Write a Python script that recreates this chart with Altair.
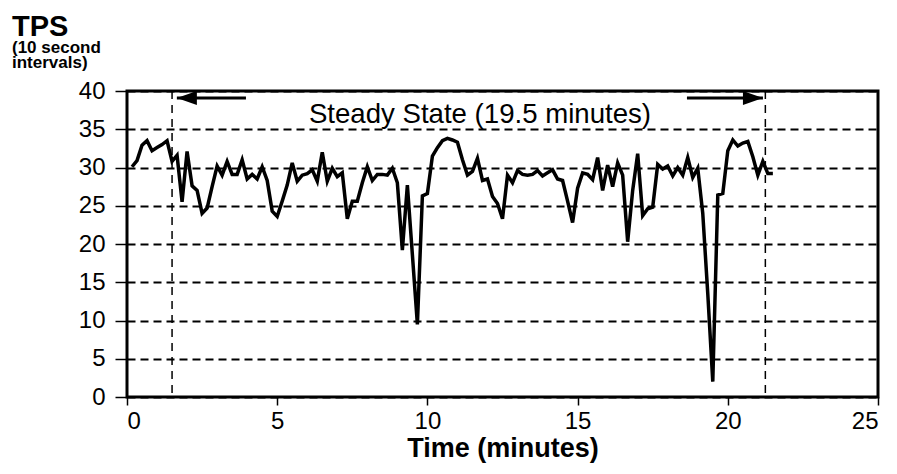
import altair as alt
import pandas as pd

# TPS sampled every 10 seconds (index i -> i*10 s)
tps = [
    30.1, 30.9, 32.9, 33.5, 32.2, 32.6, 33.0, 33.5, 30.8, 31.6,
    25.5, 32.1, 27.6, 27.0, 24.0, 24.7, 27.5, 30.2, 29.0, 30.8,
    29.1, 29.1, 31.0, 28.5, 29.1, 28.5, 30.1, 28.3, 24.3, 23.6,
    25.6, 27.7, 30.6, 28.2, 29.0, 29.2, 29.7, 28.2, 32.0, 28.2,
    29.9, 28.8, 29.3, 23.3, 25.6, 25.6, 28.0, 30.1, 28.3, 29.1,
    29.1, 29.0, 29.9, 28.0, 19.2, 27.7, 18.6, 9.5, 26.3, 26.6,
    31.5, 32.6, 33.5, 33.8, 33.6, 33.3, 31.0, 29.0, 29.5, 31.2,
    28.3, 28.5, 26.2, 25.3, 23.3, 29.0, 28.0, 29.6, 29.1, 29.0,
    29.1, 29.6, 28.9, 29.3, 29.7, 28.5, 28.3, 25.6, 22.8, 27.3,
    29.3, 29.1, 28.4, 31.3, 27.0, 30.3, 27.5, 30.6, 29.0, 20.3,
    27.0, 31.8, 23.7, 24.6, 24.8, 30.4, 29.8, 30.2, 28.9, 30.0,
    29.0, 31.3, 28.7, 29.9, 24.0, 13.5, 2.0, 26.4, 26.6, 32.2,
    33.6, 32.8, 33.2, 33.4, 31.4, 29.0, 30.8, 29.2, 29.2,
]
seconds = [10 * (k + 1) for k in range(len(tps))]
minutes = [s / 60 for s in seconds]

x_ticks = [0, 5, 10, 15, 20, 25]
y_ticks = [0, 5, 10, 15, 20, 25, 30, 35, 40]

steady_bounds = [1.5, 21.25]
arrow_tail = [3.96, 18.64]
arrow_tip = [1.66, 21.17]
arrow_y = [39.1, 39.1]
arrow_dir = ["left", "right"]
label_text = ["Steady State (19.5 minutes)"]
label_x = [11.75]
label_y = [36.8]

FONT = "Liberation Sans"

df = pd.DataFrame({"t": minutes, "tps": tps})
bounds_df = pd.DataFrame({"t": steady_bounds})
arrows_df = pd.DataFrame({"tail": arrow_tail, "tip": arrow_tip, "y": arrow_y, "dir": arrow_dir})
label_df = pd.DataFrame({"text": label_text, "x": label_x, "y": label_y})

xscale = alt.Scale(domain=[0, 25], nice=False, zero=False)
yscale = alt.Scale(domain=[0, 40], nice=False)


def xaxis():
    return alt.Axis(values=x_ticks, title="Time (minutes)", grid=False, format="d",
                    labelOverlap=False, tickSize=8, labelPadding=4, titlePadding=2)


def yaxis():
    return alt.Axis(values=y_ticks, title=None, grid=True, format="d",
                    labelOverlap=False, tickSize=12, labelPadding=10)


line = alt.Chart(df).mark_line(color="black", strokeWidth=3.5, strokeJoin="miter").encode(
    x=alt.X("t:Q", scale=xscale, axis=xaxis()),
    y=alt.Y("tps:Q", scale=yscale, axis=yaxis()),
)

vrules = alt.Chart(bounds_df).mark_rule(color="black", strokeWidth=1.5, strokeDash=[8, 6]).encode(
    x=alt.X("t:Q", scale=xscale, axis=xaxis())
)

shafts = alt.Chart(arrows_df).mark_rule(color="black", strokeWidth=3).encode(
    x=alt.X("tail:Q", scale=xscale, axis=xaxis()), x2="tip:Q",
    y=alt.Y("y:Q", scale=yscale, axis=yaxis())
)

head_left = alt.Chart(arrows_df).transform_filter(alt.datum.dir == "left").mark_point(
    shape="M0,0L2,-0.7L2,0.7Z", size=400, filled=True, color="black", opacity=1
).encode(x=alt.X("tip:Q", scale=xscale, axis=xaxis()), y=alt.Y("y:Q", scale=yscale, axis=yaxis()))

head_right = alt.Chart(arrows_df).transform_filter(alt.datum.dir == "right").mark_point(
    shape="M0,0L-2,-0.7L-2,0.7Z", size=400, filled=True, color="black", opacity=1
).encode(x=alt.X("tip:Q", scale=xscale, axis=xaxis()), y=alt.Y("y:Q", scale=yscale, axis=yaxis()))

label = alt.Chart(label_df).mark_text(
    font=FONT, fontSize=27.6, color="black", baseline="middle", align="center"
).encode(x=alt.X("x:Q", scale=xscale, axis=xaxis()),
         y=alt.Y("y:Q", scale=yscale, axis=yaxis()), text="text:N")

chart = alt.layer(vrules, line, shafts, head_left, head_right, label).properties(
    width=751,
    height=306,
    autosize=alt.AutoSizeParams(type="none"),
    padding={"left": 119, "top": 83, "right": 10, "bottom": 70},
    title=alt.TitleParams(
        text="TPS",
        subtitle=["(10 second", "intervals)"],
        anchor="start",
        frame="group",
        dx=-115,
        offset=8,
        font=FONT,
        fontSize=29,
        fontWeight="bold",
        color="black",
        subtitleFont=FONT,
        subtitleFontSize=17,
        subtitleFontWeight="bold",
        subtitleColor="black",
        subtitleLineHeight=15,
        subtitlePadding=-2,
    ),
).configure_view(
    stroke="black", strokeWidth=3
).configure_axis(
    domain=False,
    tickColor="black",
    tickWidth=1.5,
    labelFont=FONT,
    labelFontSize=24,
    labelColor="black",
    gridColor="black",
    gridDash=[8, 5],
    gridWidth=1.8,
    gridOpacity=1,
    titleFont=FONT,
    titleFontSize=27,
    titleFontWeight="bold",
    titleColor="black",
)

chart.save("out.html", embed_options={"renderer": "svg", "actions": False})
